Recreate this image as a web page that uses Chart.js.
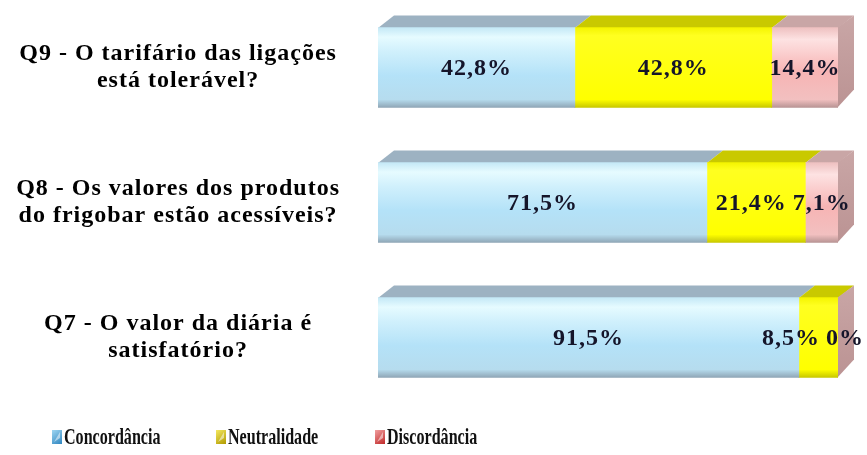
<!DOCTYPE html>
<html>
<head>
<meta charset="utf-8">
<script src="https://cdn.jsdelivr.net/npm/chart.js@4/dist/chart.umd.min.js"></script>
<style>
  html, body { margin: 0; padding: 0; background: #fff; }
  #wrap { width: 867px; height: 455px; }
</style>
</head>
<body>
<div id="wrap"><canvas id="chart" width="867" height="455"></canvas></div>
<script>
// data
const questions = [
    ['Q9 - O tarifário das ligações', 'está tolerável?'],
    ['Q8 - Os valores dos produtos', 'do frigobar estão acessíveis?'],
    ['Q7 - O valor da diária é', 'satisfatório?'],
];
const seriesNames = ['Concordância', 'Neutralidade', 'Discordância'];
const concordancia = [42.8, 71.5, 91.5];
const neutralidade = [42.8, 21.4, 8.5];
const discordancia = [14.4, 7.1, 0];

const DX = 16, DY = 12, THICK = 80;
const SERIF = '"Liberation Serif", "Times New Roman", serif';

// front / top / side shades for each series
const looks = [
    { stops: [[0, '#c4e8f6'], [0.12, '#e6fbff'], [0.3, '#d0f0fc'], [0.6, '#b4e2f8'], [0.9, '#b6dcee'], [1, '#8fa6b6']],
      top: '#9db2c2', side: '#8ea6b8', legend: ['#9fd6f2', '#2f86c0'] },
    { stops: [[0, '#f4f400'], [0.1, '#ffff20'], [0.9, '#ffff00'], [1, '#c8c800']],
      top: '#c9c900', side: '#bcbc00', legend: ['#f4e860', '#b09a00'] },
    { stops: [[0, '#eec0c0'], [0.15, '#fde2e2'], [0.55, '#f7b4b4'], [0.9, '#f2c0c0'], [1, '#b89494']],
      top: '#c9a6a6', side: '#bb9393', legend: ['#f0a0a0', '#c02828'] },
];

function frontFill(i) {
    return c => {
        const ys = c.chart.scales.y;
        if ( !ys || ys.top == null ) return looks[i].stops[2][1];
        const cy = ys.getPixelForValue(c.dataIndex);
        const g = c.chart.ctx.createLinearGradient(0, cy - THICK / 2, 0, cy + THICK / 2);
        looks[i].stops.forEach(s => g.addColorStop(s[0], s[1]));
        return g;
    };
}

const fmt = v => String(v).replace('.', ',') + '%';

const faces3d = {
    id: 'faces3d',
    // the source text is loosely spaced
    beforeUpdate(chart) { chart.ctx.letterSpacing = '1px'; },
    beforeLayout(chart) { chart.ctx.letterSpacing = '1px'; },
    beforeDraw(chart) { chart.ctx.letterSpacing = '1px'; },
    beforeDatasetsDraw(chart) {
        const ctx = chart.ctx;
        const metas = chart.data.datasets.map((d, i) => chart.getDatasetMeta(i));
        ctx.save();
        for ( let j = 0; j < chart.data.labels.length; j++ ) {
            let last = null;
            metas.forEach((m, i) => {
                const el = m.data[j];
                const top = el.y - el.height / 2;
                const x0 = Math.min(el.base, el.x), x1 = Math.max(el.base, el.x);
                ctx.fillStyle = looks[i].top;
                ctx.beginPath();
                ctx.moveTo(x0, top + 0.5);
                ctx.lineTo(x0 + DX, top - DY);
                ctx.lineTo(x1 + DX, top - DY);
                ctx.lineTo(x1, top + 0.5);
                ctx.closePath();
                ctx.fill();
                last = { el, i };
            });
            // side face at the end of the stack
            const el = last.el;
            const top = el.y - el.height / 2, bot = el.y + el.height / 2;
            const g = ctx.createLinearGradient(0, top - DY, 0, bot);
            g.addColorStop(0, looks[last.i].top);
            g.addColorStop(1, looks[last.i].side);
            ctx.fillStyle = g;
            ctx.beginPath();
            ctx.moveTo(el.x - 0.5, top);
            ctx.lineTo(el.x + DX, top - DY);
            ctx.lineTo(el.x + DX, bot - DY - 6);
            ctx.lineTo(el.x - 0.5, bot);
            ctx.closePath();
            ctx.fill();
        }
        ctx.restore();
    },
    afterDatasetsDraw(chart) {
        const ctx = chart.ctx;
        ctx.save();
        ctx.font = 'bold 24px ' + SERIF;
        ctx.fillStyle = '#15152a';
        ctx.textBaseline = 'middle';
        for ( let j = 0; j < chart.data.labels.length; j++ ) {
            const items = chart.data.datasets.map((d, i) => {
                const el = chart.getDatasetMeta(i).data[j];
                const text = fmt(d.data[j]);
                const w = ctx.measureText(text).width;
                let left = (el.base + el.x) / 2 - w / 2;
                if ( d.data[j] === 0 ) left = el.x - 12;
                return { text, w, left, y: el.y };
            });
            // push overlapping labels leftwards
            for ( let k = items.length - 2; k >= 0; k-- ) {
                const lim = items[k + 1].left - 6;
                if ( items[k].left + items[k].w > lim ) items[k].left = lim - items[k].w;
            }
            items.forEach(it => {
                ctx.textAlign = 'left';
                ctx.fillText(it.text, it.left, it.y + 1);
            });
        }
        ctx.restore();
    },
    afterDraw(chart) {
        const ctx = chart.ctx;
        const y = 437;
        const xs = [52, 216, 375];
        ctx.save();
        ctx.letterSpacing = '0px';
        chart.data.datasets.forEach((d, i) => {
            const x = xs[i];
            const g = ctx.createLinearGradient(x, y - 7, x + 10, y + 7);
            g.addColorStop(0, looks[i].legend[0]);
            g.addColorStop(1, looks[i].legend[1]);
            ctx.fillStyle = g;
            ctx.fillRect(x, y - 7, 10, 14);
            ctx.fillStyle = 'rgba(255,255,255,0.5)';
            ctx.beginPath();
            ctx.moveTo(x + 2, y + 5);
            ctx.lineTo(x + 8, y - 5);
            ctx.lineTo(x + 8, y + 1);
            ctx.closePath();
            ctx.fill();
            ctx.fillStyle = '#111';
            ctx.font = 'bold 24px ' + SERIF;
            ctx.textBaseline = 'middle';
            ctx.textAlign = 'left';
            ctx.translate(x + 12, y + 1);
            ctx.scale(0.67, 1);
            ctx.fillText(d.label, 0, 0);
            ctx.setTransform(1, 0, 0, 1, 0, 0);
        });
        ctx.restore();
    }
};

const series = [concordancia, neutralidade, discordancia];

new Chart(document.getElementById('chart'), {
    type: 'bar',
    data: {
        labels: questions,
        datasets: series.map((vals, i) => ({
            label: seriesNames[i],
            data: vals,
            backgroundColor: frontFill(i),
            borderWidth: 0,
            barThickness: THICK,
        })),
    },
    options: {
        indexAxis: 'y',
        responsive: false,
        animation: false,
        layout: { padding: { top: 0, bottom: 50, right: 29, left: 0 } },
        plugins: {
            legend: { display: false },
            tooltip: { enabled: false },
        },
        scales: {
            x: {
                stacked: true,
                min: 0,
                max: 100,
                display: false,
            },
            y: {
                stacked: true,
                grid: { display: false },
                border: { display: false },
                afterFit: s => {
                    s.width = 378;
                    s.paddingTop = 0;
                    s.paddingBottom = 0;
                },
                ticks: {
                    crossAlign: 'center',
                    padding: 30,
                    color: '#000',
                    font: { family: SERIF, size: 24, weight: 'bold', lineHeight: 1.125 },
                },
            },
        },
    },
    plugins: [faces3d],
});
</script>
</body>
</html>
